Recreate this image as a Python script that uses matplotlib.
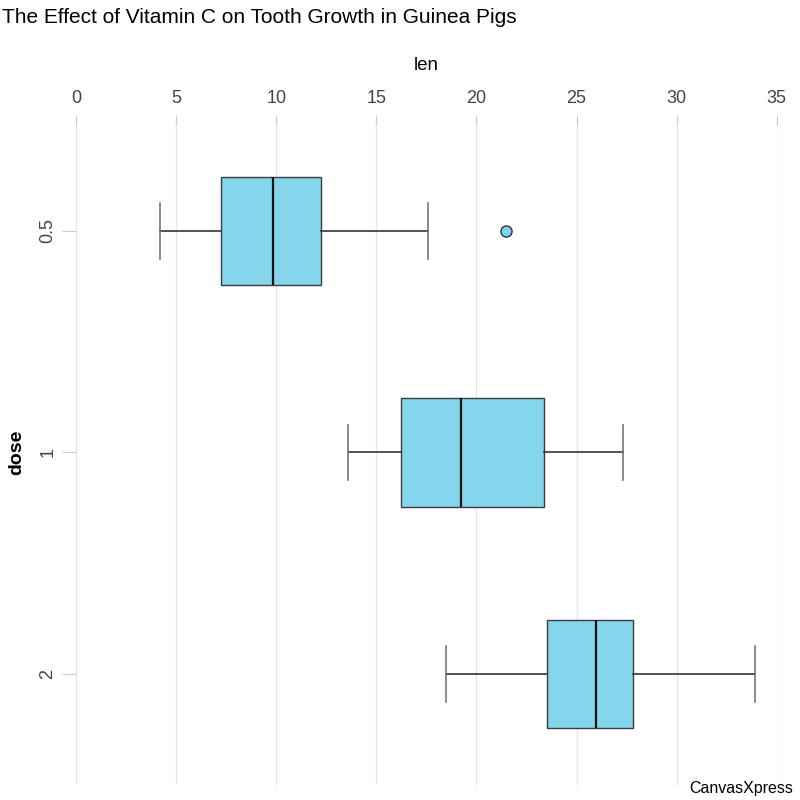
import matplotlib
matplotlib.use("Agg")
import matplotlib.pyplot as plt

plt.rcParams['font.family'] = ['Liberation Sans', 'DejaVu Sans']

# box statistics (len by dose)
doses = ['0.5', '1', '2']
whisker_low = [4.2, 13.6, 18.5]
q1 = [7.225, 16.25, 23.525]
medians = [9.85, 19.25, 25.95]
q3 = [12.25, 23.375, 27.825]
whisker_high = [17.6, 27.3, 33.9]
outliers = [[21.5], [], []]

stats = []
for i, d in enumerate(doses):
    stats.append({'label': d, 'whislo': whisker_low[i], 'q1': q1[i], 'med': medians[i],
                  'q3': q3[i], 'whishi': whisker_high[i], 'fliers': outliers[i]})

fig = plt.figure(figsize=(8, 8), dpi=100)
ax = fig.add_axes([0.095, 0.019, 0.876, 0.831])

ax.bxp(stats, positions=range(len(doses)), vert=False, widths=0.49, patch_artist=True,
       boxprops=dict(facecolor='#7fd3ed', edgecolor='#333333', linewidth=1, alpha=0.95),
       medianprops=dict(color='#111111', linewidth=1.6),
       whiskerprops=dict(color='#333333', linewidth=1.2),
       capprops=dict(color='#777777', linewidth=1.2),
       capwidths=0.25,
       flierprops=dict(marker='o', markerfacecolor='#7fd3ed', markeredgecolor='#333333',
                       markersize=8, markeredgewidth=1))

ax.set_xlim(0, 35)
ax.set_ylim(len(doses) - 0.5, -0.5)
ax.set_xticks(range(0, 36, 5))
ax.xaxis.tick_top()
ax.xaxis.set_label_position('top')
ax.grid(axis='x', color='#e6e6e6', linewidth=1)
ax.set_axisbelow(True)
for s in ax.spines.values():
    s.set_visible(False)

ax.tick_params(axis='x', length=7, direction='inout', color='#cccccc', labelsize=13,
               labelcolor='#444444', pad=6)
ax.tick_params(axis='y', length=10, color='#cccccc', labelsize=13, labelcolor='#444444', pad=4)
for lbl in ax.get_yticklabels():
    lbl.set_rotation(90)
    lbl.set_va('center')

ax.set_xlabel('len', fontsize=13.5, labelpad=14)
ax.set_ylabel('dose', fontsize=14, fontweight='bold', labelpad=10)

fig.text(0.003, 0.978, 'The Effect of Vitamin C on Tooth Growth in Guinea Pigs', fontsize=15,
         ha='left', va='center')
fig.text(0.991, 0.014, 'CanvasXpress', fontsize=11.5, ha='right', va='center')

fig.savefig('out.png', dpi=100)
